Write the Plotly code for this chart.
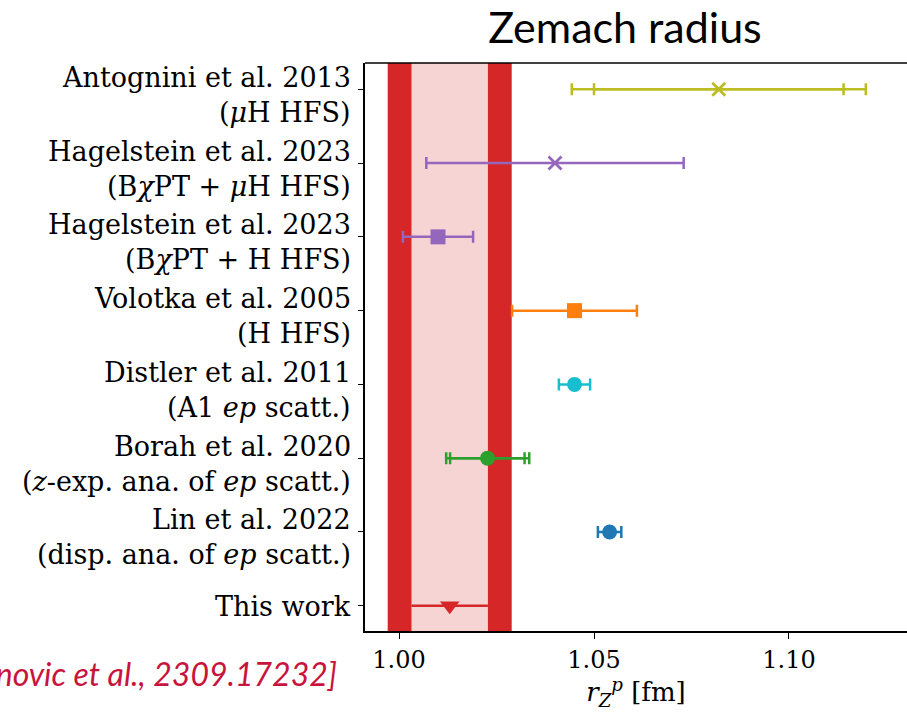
import plotly.graph_objects as go

# Result labels (first line = reference, second line = method)
ref_lines = [
    "Antognini et al. 2013",
    "Hagelstein et al. 2023",
    "Hagelstein et al. 2023",
    "Volotka et al. 2005",
    "Distler et al. 2011",
    "Borah et al. 2020",
    "Lin et al. 2022",
    "This work",
]
method_lines = [
    "(<i>μ</i>H HFS)",
    "(B<i>χ</i>PT + <i>μ</i>H HFS)",
    "(B<i>χ</i>PT + H HFS)",
    "(H HFS)",
    "(A1 <i>ep</i> scatt.)",
    "(<i>z</i>-exp. ana. of <i>ep</i> scatt.)",
    "(disp. ana. of <i>ep</i> scatt.)",
    "",
]

# Zemach radius r_Z^p [fm] of the literature results
rz_values = [1.082, 1.040, 1.010, 1.045, 1.045, 1.0227, 1.054]
# inner (statistical) uncertainties, lower / upper
err_minus = [0.032, 0.033, 0.009, 0.016, 0.004, 0.0096, 0.003]
err_plus = [0.032, 0.033, 0.009, 0.016, 0.004, 0.0095, 0.003]
# total uncertainties where a second error bar is quoted
tot_minus = [0.0377, None, None, None, None, 0.0106, None]
tot_plus = [0.0377, None, None, None, None, 0.0107, None]

# this work: central value, statistical and total uncertainty
rz_this = 1.013
err_this_stat = 0.0098
err_this_tot = 0.0159

x_ticks = [1.00, 1.05, 1.10]
x_tick_text = ["1.00", "1.05", "1.10"]

# styling
colors = ["#bcbd22", "#9467bd", "#9467bd", "#ff7f0e", "#17becf", "#2ca02c", "#1f77b4"]
symbols = ["x-thin", "x-thin", "square", "square", "circle", "circle", "circle"]
red = "#d62728"
serif = "DejaVu Serif"
label_size = 27

n_rows = len(ref_lines)
rows = [n_rows - 1 - i for i in range(n_rows)]

fig = go.Figure()

for i, (val, col, sym) in enumerate(zip(rz_values, colors, symbols)):
    y = rows[i]
    if tot_minus[i] is not None:
        fig.add_trace(go.Scatter(
            x=[val], y=[y], mode="markers",
            marker=dict(size=1, opacity=0, color=col),
            error_x=dict(type="data", symmetric=False,
                         array=[tot_plus[i]], arrayminus=[tot_minus[i]],
                         color=col, thickness=2.5, width=6),
            showlegend=False, hoverinfo="skip",
        ))
    if sym == "x-thin":
        marker = dict(symbol=sym, size=13, color=col, line=dict(color=col, width=2.8))
    else:
        marker = dict(symbol=sym, size=15, color=col, line=dict(width=0))
    fig.add_trace(go.Scatter(
        x=[val], y=[y], mode="markers",
        marker=marker,
        error_x=dict(type="data", symmetric=False,
                     array=[err_plus[i]], arrayminus=[err_minus[i]],
                     color=col, thickness=2.5, width=6),
        showlegend=False, name=ref_lines[i],
    ))

# this work
fig.add_trace(go.Scatter(
    x=[rz_this], y=[rows[-1]], mode="markers",
    marker=dict(symbol="triangle-down", size=17, color=red, line=dict(width=0)),
    error_x=dict(type="data", array=[err_this_stat], color=red, thickness=2.5, width=0),
    showlegend=False, name="This work",
))

# uncertainty bands of this work
fig.add_shape(type="rect", xref="x", yref="y domain",
              x0=rz_this - err_this_tot, x1=rz_this + err_this_tot, y0=0, y1=1,
              fillcolor=red, line=dict(width=0), layer="below")
fig.add_shape(type="rect", xref="x", yref="y domain",
              x0=rz_this - err_this_stat, x1=rz_this + err_this_stat, y0=0, y1=1,
              fillcolor="rgb(247,212,212)", line=dict(width=0), layer="below")
# top frame line
fig.add_shape(type="line", xref="paper", yref="paper", x0=0, x1=1, y0=1, y1=1,
              line=dict(color="black", width=1.5), layer="above")

# row labels
annotations = []
for i in range(n_rows):
    y = rows[i]
    font = dict(family=serif, size=label_size, color="black")
    if method_lines[i]:
        annotations.append(dict(x=0, xref="paper", y=y, yref="y", text=ref_lines[i],
                                xanchor="right", yanchor="middle", xshift=-12, yshift=12,
                                showarrow=False, font=font))
        annotations.append(dict(x=0, xref="paper", y=y, yref="y", text=method_lines[i],
                                xanchor="right", yanchor="middle", xshift=-12, yshift=-23,
                                showarrow=False, font=font))
    else:
        annotations.append(dict(x=0, xref="paper", y=y, yref="y", text=ref_lines[i],
                                xanchor="right", yanchor="middle", xshift=-12, yshift=-1,
                                showarrow=False, font=font))

# citation
annotations.append(dict(x=0, xref="paper", y=0, yref="paper",
                        text="<i>[Djukanovic et al., 2309.17232]</i>",
                        xanchor="right", yanchor="middle", xshift=-26, yshift=-42,
                        showarrow=False, font=dict(family="Lato", size=32, color="#c8143c")))

fig.update_layout(
    width=907, height=716,
    margin=dict(l=365, r=0, t=63, b=85),
    paper_bgcolor="white", plot_bgcolor="white",
    title=dict(text="Zemach radius", x=625 / 907, xanchor="center",
               y=1 - 28 / 716, yanchor="middle", yref="container",
               font=dict(family="Lato", size=43, color="black")),
    annotations=annotations,
    xaxis=dict(
        range=[0.99128, 1.13026], tickvals=x_ticks, ticktext=x_tick_text,
        ticks="outside", ticklen=6, tickwidth=1.2, tickcolor="black",
        showline=True, linecolor="black", linewidth=1.5,
        showgrid=False, zeroline=False,
        tickfont=dict(family=serif, size=24, color="black"),
        title=dict(text="<i>r</i><sub><i>Z</i></sub><sup><i>p</i></sup> [fm]",
                   font=dict(family=serif, size=26, color="black"), standoff=6),
    ),
    yaxis=dict(
        range=[-0.343, 7.357], tickvals=rows, showticklabels=False,
        ticks="outside", ticklen=5, tickwidth=1.2, tickcolor="black",
        showline=True, linecolor="black", linewidth=1.5,
        showgrid=False, zeroline=False,
    ),
)

fig.write_html("out.html")
